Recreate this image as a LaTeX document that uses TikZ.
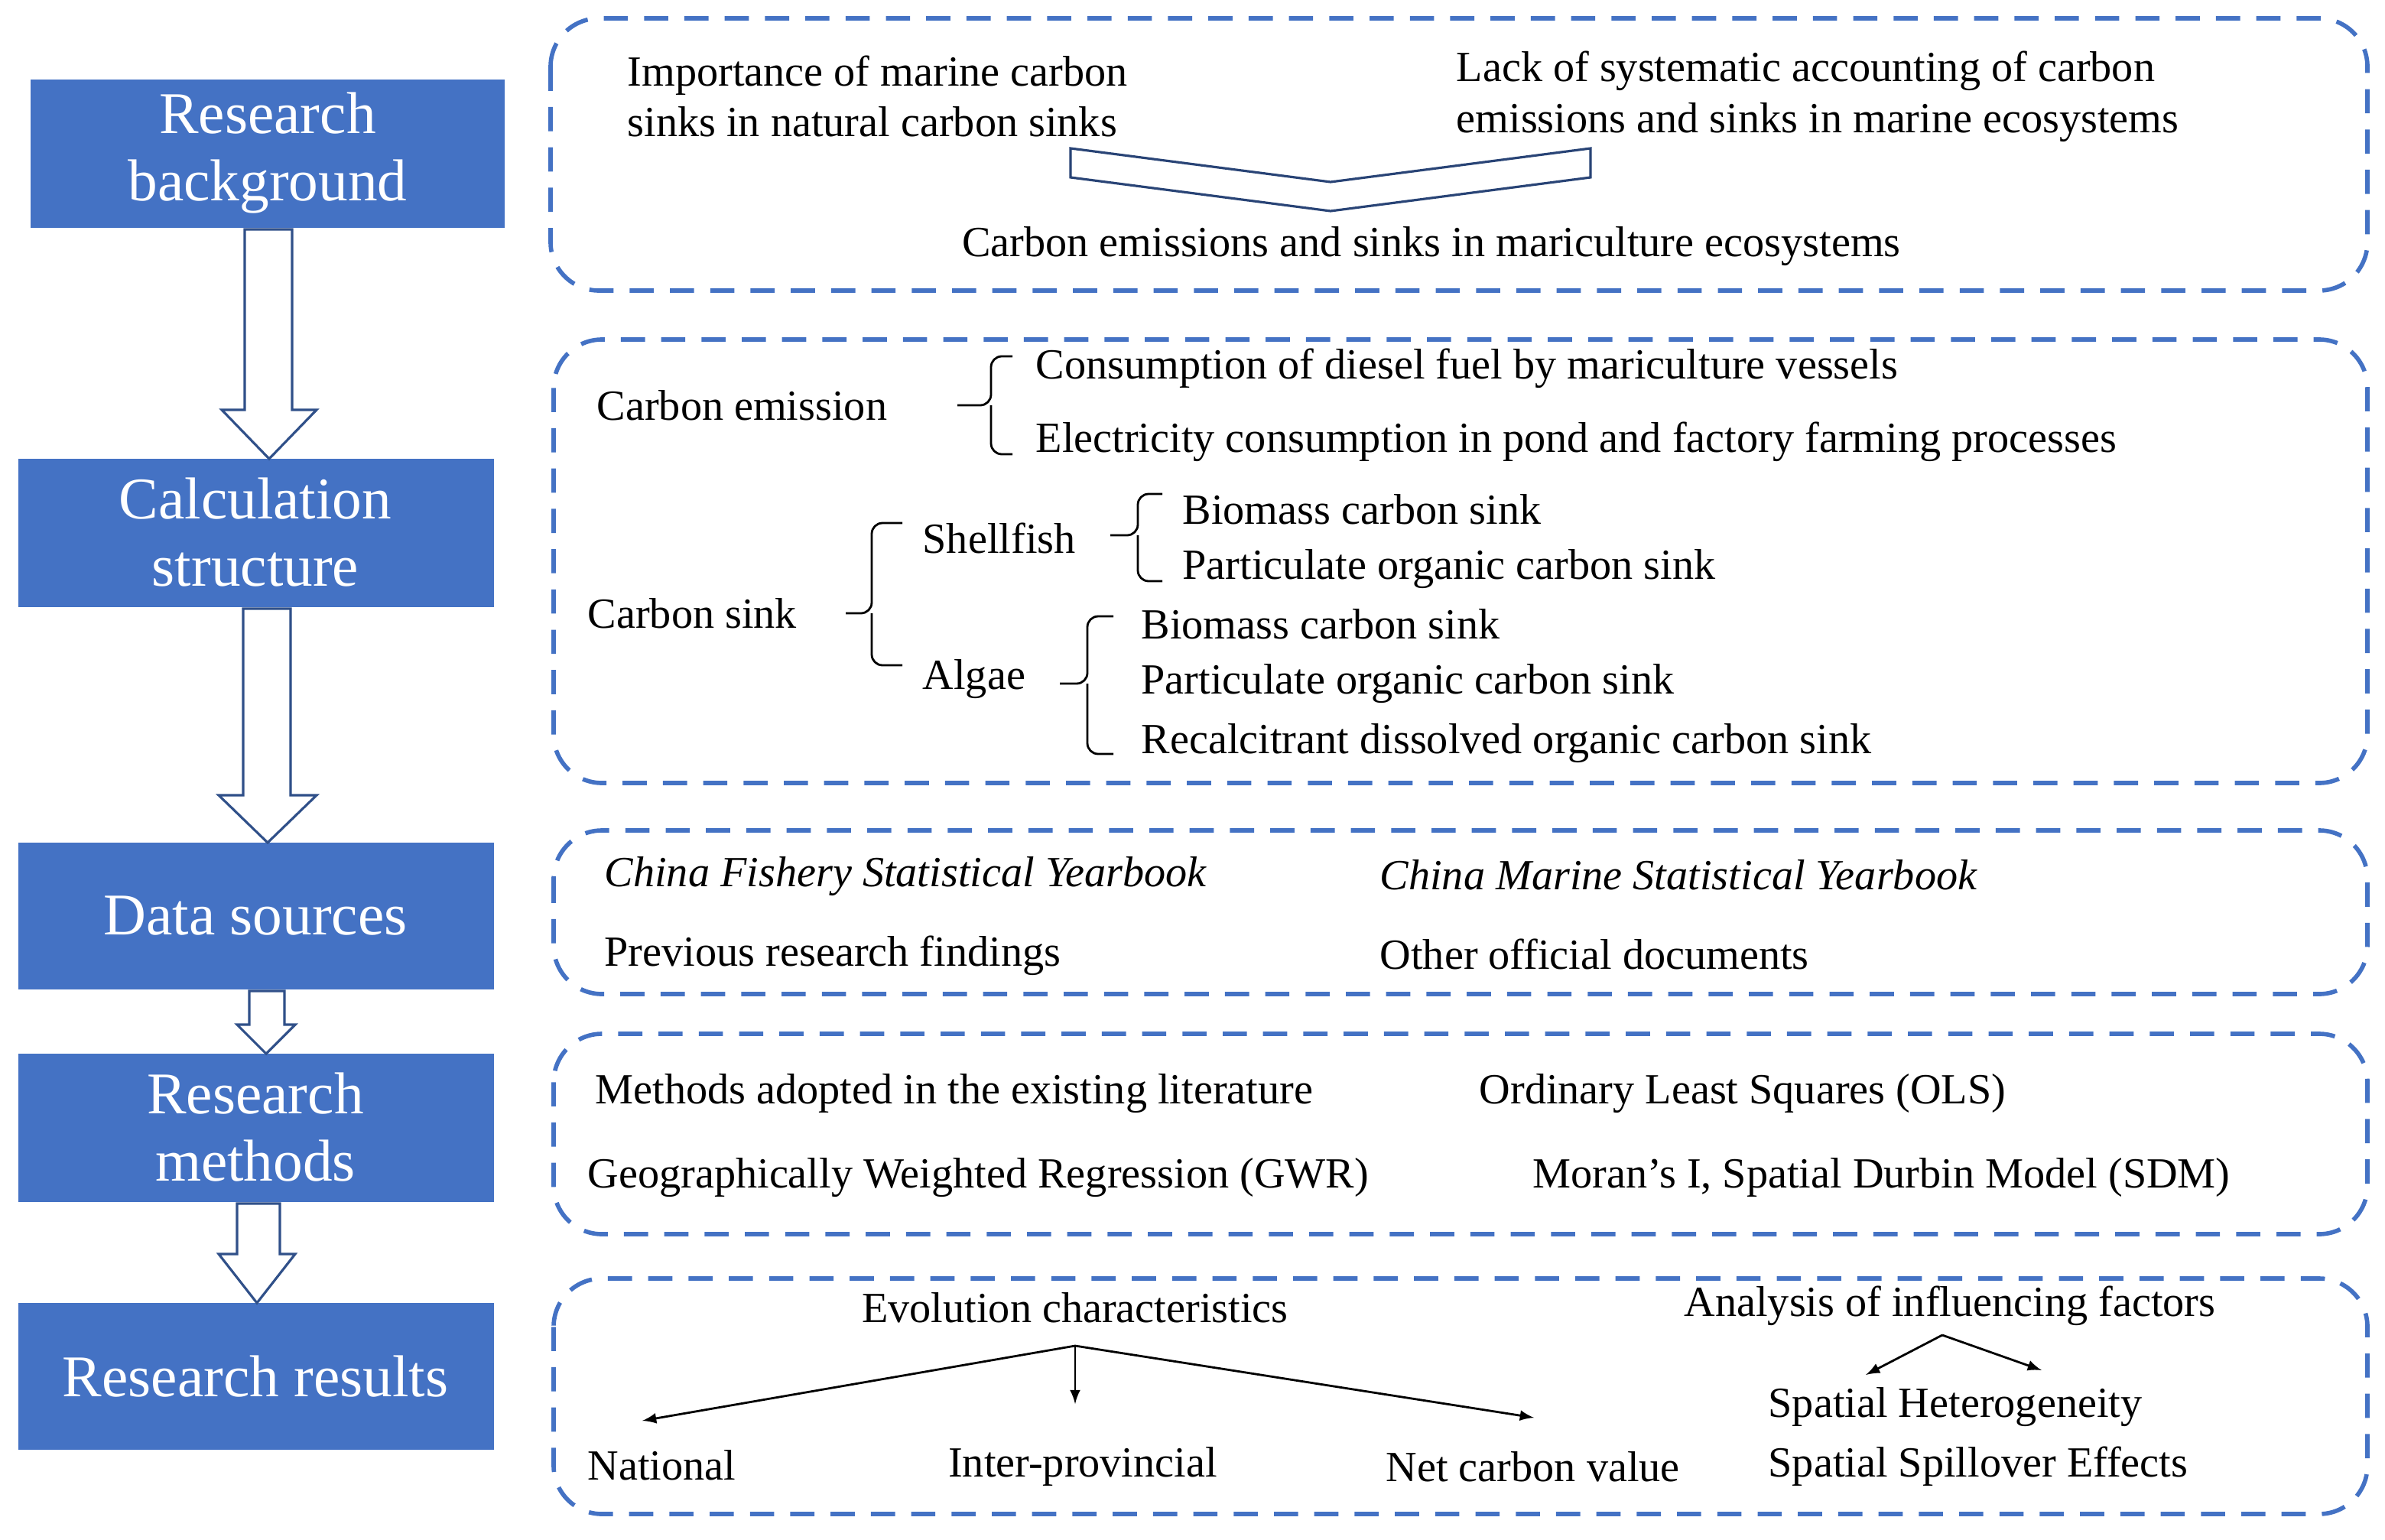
\documentclass[tikz,border=0pt]{standalone}
\usepackage{fontspec}
\setmainfont{Liberation Serif}
\begin{document}
\begin{tikzpicture}[x=0.02cm,y=-0.02cm,
  lbox/.style={fill=bblue,draw=none,text=white,font=\fontsize{22}{25}\selectfont,align=center,inner sep=0},
  dbox/.style={draw=bblue,line width=1.6pt,dash pattern=on 9pt off 6pt,rounded corners=18pt},
  txt/.style={font=\fontsize{16}{19}\selectfont,inner sep=0,anchor=west},
  ctxt/.style={font=\fontsize{16}{19}\selectfont,inner sep=0},
  hol/.style={draw=bblue!70!black,fill=white,line width=0.9pt},
  br/.style={draw=black,line width=0.8pt,rounded corners=4pt},
  ar/.style={-latex,line width=0.8pt}]
\definecolor{bblue}{RGB}{68,114,196}
\useasboundingbox (0,0) rectangle (1559.5,1007);
% left boxes
\fill[bblue] (20,52) rectangle (330,149); \node[lbox] (b1) at (175,100) {Research\\background};
\fill[bblue] (12,300) rectangle (323,397); \node[lbox] (b2) at (167,348) {Calculation\\structure};
\fill[bblue] (12,551) rectangle (323,647); \node[lbox] (b3) at (167,599) {Data sources};
\fill[bblue] (12,689) rectangle (323,786); \node[lbox] (b4) at (167,737) {Research\\methods};
\fill[bblue] (12,852) rectangle (323,948); \node[lbox] (b5) at (167,900) {Research results};
% hollow arrows
\draw[hol] (160,150)--(191,150)--(191,268)--(207,268)--(176,300)--(145,268)--(160,268)--cycle;
\draw[hol] (159,398)--(190,398)--(190,520)--(207,520)--(175,551)--(143,520)--(159,520)--cycle;
\draw[hol] (163,648)--(186,648)--(186,670)--(193,670)--(174,689)--(155,670)--(163,670)--cycle;
\draw[hol] (155,787)--(183,787)--(183,820)--(193,820)--(168,852)--(143,820)--(155,820)--cycle;
% dashed boxes
\draw[dbox] (360,12) rectangle (1548,190);
\draw[dbox] (362,222) rectangle (1548,512);
\draw[dbox] (362,543) rectangle (1548,650);
\draw[dbox] (362,676) rectangle (1548,807);
\draw[dbox] (362,836) rectangle (1548,990);
% box 1
\node[txt,align=left] (t1) at (410,63) {Importance of marine carbon\\sinks in natural carbon sinks};
\node[txt,align=left] (t2) at (952,63) {Lack of systematic accounting of carbon\\emissions and sinks in marine ecosystems};
\draw[line width=0.9pt,bblue!60!black,fill=white] (700,97)--(870,119)--(1040,97)--(1040,116)--(870,138)--(700,116)--cycle;
\node[ctxt] (t3) at (936,161) {Carbon emissions and sinks in mariculture ecosystems};
% box 2
\node[txt] (ce) at (390,265) {Carbon emission};
\draw[br] (662,233)--(648,233)--(648,265)--(626,265) (648,265)--(648,297)--(662,297);
\node[txt] (ce1) at (677,241) {Consumption of diesel fuel by mariculture vessels};
\node[txt] (ce2) at (677,289) {Electricity consumption in pond and factory farming processes};
\node[txt] (cs) at (384,401) {Carbon sink};
\node[txt] (sh) at (603,352) {Shellfish};
\node[txt] (al) at (603,444) {Algae};
\draw[br] (590,342)--(570,342)--(570,401)--(553,401) (570,401)--(570,435)--(590,435);
\draw[br] (760,323)--(744,323)--(744,350)--(726,350) (744,350)--(744,380)--(760,380);
\draw[br] (728,403)--(711,403)--(711,447)--(693,447) (711,447)--(711,493)--(728,493);
\node[txt] (s1) at (773,333) {Biomass carbon sink};
\node[txt] (s2) at (773,372) {Particulate organic carbon sink};
\node[txt] (a1) at (746,408) {Biomass carbon sink};
\node[txt] (a2) at (746,447) {Particulate organic carbon sink};
\node[txt] (a3) at (746,486) {Recalcitrant dissolved organic carbon sink};
% box 3
\node[txt,font=\fontsize{16}{19}\selectfont\itshape] (d1) at (395,573) {China Fishery Statistical Yearbook};
\node[txt,font=\fontsize{16}{19}\selectfont\itshape] (d2) at (902,572) {China Marine Statistical Yearbook};
\node[txt] (d3) at (395,625) {Previous research findings};
\node[txt] (d4) at (902,624) {Other official documents};
% box 4
\node[txt] (m1) at (389,715) {Methods adopted in the existing literature};
\node[txt] (m2) at (967,715) {Ordinary Least Squares (OLS)};
\node[txt] (m3) at (384,770) {Geographically Weighted Regression (GWR)};
\node[txt] (m4) at (1002,770) {Moran’s I, Spatial Durbin Model (SDM)};
% box 5
\node[ctxt] (ev) at (703,855) {Evolution characteristics};
\coordinate (e0) at (703,880);
\node[txt] (n1) at (384,958) {National};
\node[ctxt] (n2) at (708,959) {Inter-provincial};
\node[txt] (n3) at (906,959) {Net carbon value};
\coordinate (e1) at (420,929); \coordinate (e2) at (703,918); \coordinate (e3) at (1003,927);
\draw[ar] (e0)--(e1); \draw[ar] (e0)--(e2); \draw[ar] (e0)--(e3);
\node[ctxt] (af) at (1275,854) {Analysis of influencing factors};
\coordinate (f0) at (1270,873); \coordinate (f1) at (1220,899); \coordinate (f2) at (1335,896);
\draw[ar] (f0)--(f1); \draw[ar] (f0)--(f2);
\node[txt] (h1) at (1156,920) {Spatial Heterogeneity};
\node[txt] (h2) at (1156,959) {Spatial Spillover Effects};
\end{tikzpicture}
\end{document}
